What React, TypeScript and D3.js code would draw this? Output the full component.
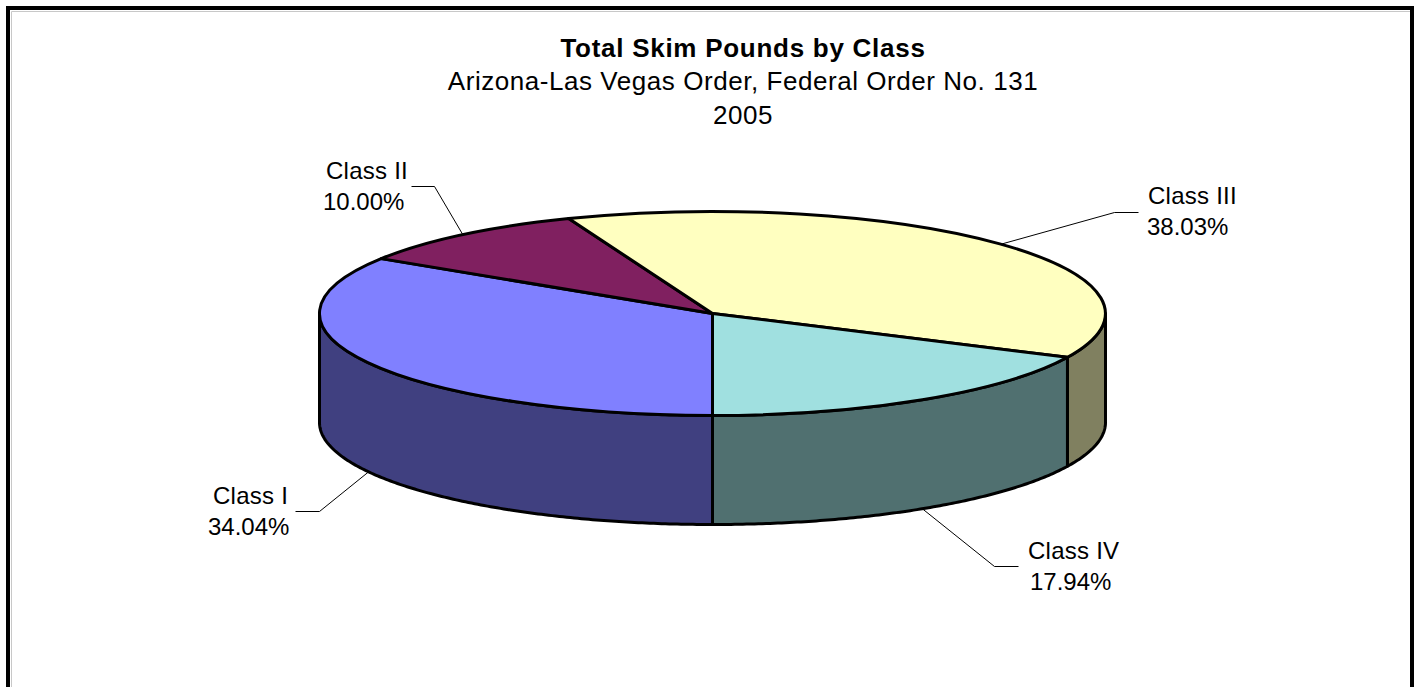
import React from "react";
import * as d3 from "d3";

const classes = ["Class I", "Class II", "Class III", "Class IV"];
const shares = [34.04, 10.0, 38.03, 17.94];
const topColors = ["#8080FF", "#802060", "#FFFFC0", "#A0E0E0"];
const sideColors = ["#404080", "#401030", "#808060", "#507070"];
const titleLines = [
  "Total Skim Pounds by Class",
  "Arizona-Las Vegas Order, Federal Order No. 131",
  "2005",
];

const width = 1418;
const height = 687;
const cx = 712.5;
const cy = 313.5;
const rx = 393;
const ry = 102;
const depth = 109;
const font = "'Liberation Sans', Arial, sans-serif";

// label placement, same order as classes
const labelPos = [
  { nameX: 213, pctX: 208, y: 504, elbow: [319, 511], end: [295, 511] },
  { nameX: 326, pctX: 323, y: 179, elbow: [434, 186], end: [411, 186] },
  { nameX: 1148, pctX: 1147, y: 204, elbow: [1114, 212], end: [1138, 212] },
  { nameX: 1028, pctX: 1030, y: 559, elbow: [994, 566], end: [1018, 566] },
];

const px = (a: number) => cx + rx * Math.sin(a);
const py = (a: number) => cy - ry * Math.cos(a);

// outer wall of a slice between two angles
function sidePath(a0: number, a1: number) {
  const steps = d3.range(a0, a1, 0.01).concat(a1);
  const top = steps.map((a) => [px(a), py(a)] as [number, number]);
  const bottom = steps
    .slice()
    .reverse()
    .map((a) => [px(a), py(a) + depth] as [number, number]);
  return d3.line()([...top, ...bottom]) + "Z";
}

// the part of a slice that faces the viewer (90-270 deg, and again one turn on)
function frontRanges(a0: number, a1: number) {
  const out: [number, number][] = [];
  [Math.PI / 2, (5 * Math.PI) / 2].forEach((start) => {
    const lo = Math.max(a0, start);
    const hi = Math.min(a1, start + Math.PI);
    if (hi > lo) out.push([lo, hi]);
  });
  return out;
}

export default function App() {
  const arcs = d3
    .pie<number>()
    .sort(null)
    .startAngle(Math.PI)
    .endAngle(3 * Math.PI)(shares);

  const unitArc = d3.arc<d3.PieArcDatum<number>>().innerRadius(0).outerRadius(1);

  return (
    <svg
      width={width}
      height={height}
      style={{ position: "absolute", left: 0, top: 0, background: "#fff" }}
    >
      {/* frame, the bottom edge is cut off by the page */}
      <path d="M11.5 687V11.5H1410" fill="none" stroke="#c8c8c8" strokeWidth={1} />
      <path d="M8 687V8H1412V687" fill="none" stroke="#000" strokeWidth={4} />

      {titleLines.map((t, i) => (
        <text
          key={t}
          x={743}
          y={56.5 + i * 33.5}
          textAnchor="middle"
          fontFamily={font}
          fontSize={26}
          letterSpacing={i === 0 ? 0.73 : 0.55}
          fontWeight={i === 0 ? "bold" : "normal"}
        >
          {t}
        </text>
      ))}

      {arcs.map((d, i) =>
        frontRanges(d.startAngle, d.endAngle).map(([a, b]) => (
          <path
            key={`${i}-${a}`}
            d={sidePath(a, b)}
            fill={sideColors[i]}
            stroke="#000"
            strokeWidth={3}
            strokeLinejoin="round"
          />
        ))
      )}

      {arcs.map((d, i) => (
        <path
          key={classes[i]}
          d={unitArc(d) as string}
          transform={`translate(${cx},${cy}) scale(${rx},${ry})`}
          vectorEffect="non-scaling-stroke"
          fill={topColors[i]}
          stroke="#000"
          strokeWidth={3}
          strokeLinejoin="round"
        />
      ))}

      {arcs.map((d, i) => {
        const mid = (d.startAngle + d.endAngle) / 2;
        const front = Math.cos(mid) < 0;
        const p = labelPos[i];
        const start: [number, number] = [px(mid), py(mid) + (front ? depth : 0)];
        return (
          <g key={classes[i]}>
            <path
              d={d3.line()([start, p.elbow as [number, number], p.end as [number, number]]) as string}
              fill="none"
              stroke="#000"
              strokeWidth={1}
              transform="translate(0.5,0.5)"
            />
            <text x={p.nameX} y={p.y} fontFamily={font} fontSize={24} letterSpacing={0.25}>
              {classes[i]}
            </text>
            <text x={p.pctX} y={p.y + 31} fontFamily={font} fontSize={24}>
              {d3.format(".2f")(shares[i])}%
            </text>
          </g>
        );
      })}
    </svg>
  );
}
